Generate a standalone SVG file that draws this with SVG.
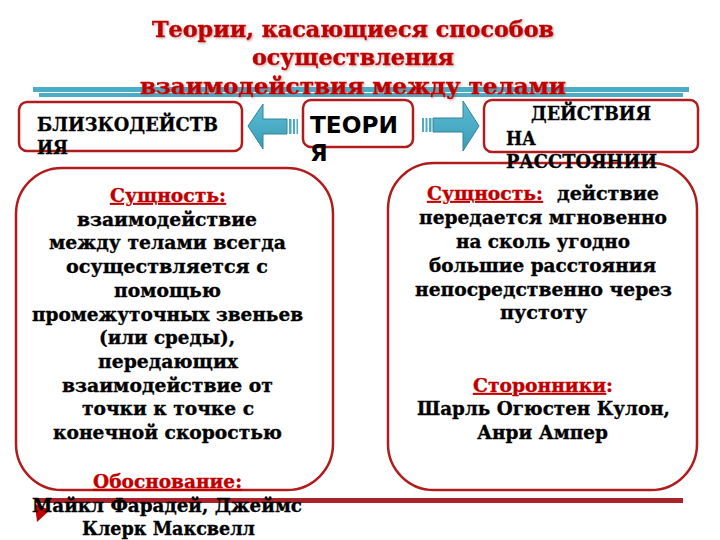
<svg xmlns="http://www.w3.org/2000/svg" width="720" height="540" viewBox="0 0 720 540">
<defs>
<style>
.title{font-family:"DejaVu Serif","Liberation Serif",serif;font-weight:bold;font-size:22.5px;fill:#C00000;stroke:#C00000;stroke-width:0.5;}
.hdr{font-family:"DejaVu Serif","Liberation Serif",serif;font-weight:bold;fill:#000;stroke:#000;stroke-width:0.3;}
.sans{font-family:"DejaVu Sans","Liberation Sans",sans-serif;font-weight:bold;font-size:23px;fill:#000;}
.body{font-family:"DejaVu Serif","Liberation Serif",serif;font-weight:bold;font-size:18.5px;fill:#000;stroke:#000;stroke-width:0.35;}
.red{fill:#C00000;stroke:#C00000;}
.ul{text-decoration:underline;}
.box{fill:#fff;stroke:#B01C1C;stroke-width:2.5;}
.bar{fill:#4BACC6;}
.arrow{stroke:#31849B;stroke-width:1;}
</style>
<filter id="shadow" x="-5%" y="-20%" width="110%" height="150%">
<feDropShadow dx="1.2" dy="1.2" stdDeviation="0.8" flood-color="#9a6a6a" flood-opacity="0.55"/>
</filter>
<linearGradient id="ag" x1="0" y1="0" x2="0" y2="1">
<stop offset="0" stop-color="#5FBCD3"/>
<stop offset="0.5" stop-color="#4BACC6"/>
<stop offset="1" stop-color="#3A9AB4"/>
</linearGradient>
</defs>
<rect width="720" height="540" fill="#fff"/>

<!-- decoration bars -->
<g id="decor">
<rect class="bar" x="33" y="87" width="656" height="5"/>
<rect class="bar" x="39" y="93" width="644" height="4"/>
<rect x="35" y="498" width="648" height="5" fill="#A8232A"/>
<polygon points="35,504 50,510 37,522" fill="#C00000"/>
</g>

<!-- title -->
<g id="title" class="title" filter="url(#shadow)" xml:space="preserve">
<text x="152" y="37" textLength="402" lengthAdjust="spacingAndGlyphs">Теории, касающиеся способов</text>
<text x="252" y="65" textLength="202" lengthAdjust="spacingAndGlyphs">осуществления</text>
<text x="140" y="94" textLength="426" lengthAdjust="spacingAndGlyphs">взаимодействия  между телами</text>
</g>

<!-- connectors -->
<g id="connectors">
<g id="arrow-left">
<polygon class="arrow" points="248,126 263,104 263,119 287,119 287,134 263,134 263,149" style="fill:url(#ag)"/>
<rect x="289" y="119" width="2.5" height="15" fill="#4BACC6"/>
<rect x="293" y="119" width="2" height="15" fill="#4BACC6"/>
<rect x="296.5" y="119" width="1.5" height="15" fill="#4BACC6"/>
</g>
<g id="arrow-right">
<polygon class="arrow" points="479,126 463,101 463,118 433,118 433,132 463,132 463,151" style="fill:url(#ag)"/>
<rect x="422" y="118" width="2" height="14" fill="#4BACC6"/>
<rect x="425.5" y="118" width="2" height="14" fill="#4BACC6"/>
<rect x="429" y="118" width="2.5" height="14" fill="#4BACC6"/>
</g>
</g>

<!-- header nodes -->
<g id="node-blizko">
<rect class="box" x="19" y="102" width="223" height="49" rx="8"/>
<text class="hdr" font-size="18.5" x="37" y="131" textLength="181" lengthAdjust="spacingAndGlyphs">БЛИЗКОДЕЙСТВ</text>
<text class="hdr" font-size="18.5" x="37" y="154" textLength="31" lengthAdjust="spacingAndGlyphs">ИЯ</text>
</g>

<g id="node-teoria">
<rect class="box" x="303" y="100" width="110" height="47" rx="8"/>
<text class="sans" x="310" y="133" textLength="88" lengthAdjust="spacingAndGlyphs">ТЕОРИ</text>
<text class="sans" x="310" y="161">Я</text>
</g>

<g id="node-distance">
<rect class="box" x="484" y="100" width="214" height="52" rx="8"/>
<text class="hdr" font-size="18" x="531" y="120" textLength="120" lengthAdjust="spacingAndGlyphs">ДЕЙСТВИЯ</text>
<text class="hdr" font-size="18" x="506" y="145" textLength="30" lengthAdjust="spacingAndGlyphs">НА</text>
</g>

<!-- left content node -->
<g id="node-left-content" xml:space="preserve">
<rect class="box" x="16" y="168" width="317" height="322" rx="46"/>
<text class="body red ul" x="110" y="202" textLength="116" lengthAdjust="spacingAndGlyphs">Сущность:</text>
<text class="body" x="77" y="225.7" textLength="180" lengthAdjust="spacingAndGlyphs">взаимодействие</text>
<text class="body" x="49" y="249.4" textLength="237" lengthAdjust="spacingAndGlyphs">между телами всегда</text>
<text class="body" x="66" y="273.1" textLength="202" lengthAdjust="spacingAndGlyphs">осуществляется  с</text>
<text class="body" x="114" y="296.8" textLength="107" lengthAdjust="spacingAndGlyphs">помощью</text>
<text class="body" x="32" y="320.5" textLength="271" lengthAdjust="spacingAndGlyphs">промежуточных звеньев</text>
<text class="body" x="99" y="344.2" textLength="136" lengthAdjust="spacingAndGlyphs">(или среды),</text>
<text class="body" x="98" y="367.9" textLength="140" lengthAdjust="spacingAndGlyphs">передающих</text>
<text class="body" x="62" y="391.6" textLength="211" lengthAdjust="spacingAndGlyphs">взаимодействие от</text>
<text class="body" x="82" y="415.3" textLength="172" lengthAdjust="spacingAndGlyphs">точки к точке с</text>
<text class="body" x="53" y="439" textLength="229" lengthAdjust="spacingAndGlyphs">конечной скоростью</text>
<text class="body red ul" x="93" y="488" textLength="149" lengthAdjust="spacingAndGlyphs">Обоснование:</text>
<text class="body" x="32" y="512" textLength="270" lengthAdjust="spacingAndGlyphs">Майкл Фарадей, Джеймс</text>
<text class="body" x="82" y="535" textLength="173" lengthAdjust="spacingAndGlyphs">Клерк Максвелл</text>
</g>

<!-- right content node -->
<g id="node-right-content">
<rect class="box" x="388" y="163" width="309" height="327" rx="46"/>
<text class="hdr" font-size="18" x="506" y="168" textLength="151" lengthAdjust="spacingAndGlyphs">РАССТОЯНИИ</text>
<text class="body red ul" x="427" y="200" textLength="116" lengthAdjust="spacingAndGlyphs">Сущность:</text>
<text class="body" x="557" y="200" textLength="102" lengthAdjust="spacingAndGlyphs">действие</text>
<text class="body" x="419" y="224" textLength="248" lengthAdjust="spacingAndGlyphs">передается мгновенно</text>
<text class="body" x="456" y="248" textLength="174" lengthAdjust="spacingAndGlyphs">на сколь угодно</text>
<text class="body" x="429" y="272" textLength="227" lengthAdjust="spacingAndGlyphs">большие расстояния</text>
<text class="body" x="415" y="296" textLength="257" lengthAdjust="spacingAndGlyphs">непосредственно через</text>
<text class="body" x="500" y="319" textLength="87" lengthAdjust="spacingAndGlyphs">пустоту</text>
<text class="body red" x="473" y="392" textLength="140" lengthAdjust="spacingAndGlyphs"><tspan class="ul">Сторонники</tspan>:</text>
<text class="body" x="417" y="415" textLength="253" lengthAdjust="spacingAndGlyphs">Шарль Огюстен Кулон,</text>
<text class="body" x="477" y="439" textLength="131" lengthAdjust="spacingAndGlyphs">Анри Ампер</text>
</g>
</svg>
